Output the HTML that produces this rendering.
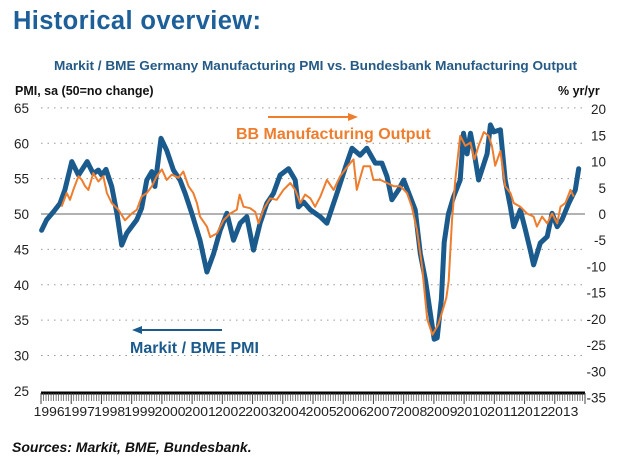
<!DOCTYPE html>
<html><head><meta charset="utf-8"><style>
body{margin:0;background:#fff;}
svg{display:block;font-family:"Liberation Sans",Arial,sans-serif;}
</style></head><body>
<svg width="640" height="466" viewBox="0 0 640 466">
<text x="13" y="29" font-size="25.5" font-weight="bold" fill="#1d5f98" textLength="248">Historical overview:</text>
<text x="54" y="70" font-size="13" font-weight="bold" fill="#245a85" textLength="523" lengthAdjust="spacingAndGlyphs">Markit / BME Germany Manufacturing PMI vs. Bundesbank Manufacturing Output</text>
<text x="15" y="95" font-size="12.5" font-weight="bold" fill="#111">PMI, sa (50=no change)</text>
<text x="558" y="95" font-size="12.5" font-weight="bold" fill="#111">% yr/yr</text>
<g id="grid"></g>
<g id="axes"></g>
<g id="series"></g>
<line x1="268" y1="117" x2="352" y2="117" stroke="#ee7d2e" stroke-width="2"/>
<polygon points="358,117 348,113 348,121" fill="#ee7d2e"/>
<text x="236" y="139" font-size="16" font-weight="bold" fill="#ee7d2e">BB Manufacturing Output</text>
<line x1="140" y1="330" x2="222" y2="330" stroke="#1b5a8c" stroke-width="2"/>
<polygon points="132,330 142,326 142,334" fill="#1b5a8c"/>
<text x="130" y="353" font-size="16" font-weight="bold" fill="#1b5a8c">Markit / BME PMI</text>
<text x="12" y="452" font-size="14" font-weight="bold" font-style="italic" fill="#111">Sources: Markit, BME, Bundesbank.</text>
</svg>
<script>
const leftTicks=[65,60,55,50,45,40,35,30,25];
const rightTicks=[20,15,10,5,0,-5,-10,-15,-20,-25,-30,-35];
const years=[1996,1997,1998,1999,2000,2001,2002,2003,2004,2005,2006,2007,2008,2009,2010,2011,2012,2013];
const pmiT=[1996.02,1996.19,1996.41,1996.63,1996.79,1997.02,1997.24,1997.53,1997.73,1997.90,1998.01,1998.15,1998.34,1998.51,1998.67,1998.84,1999.17,1999.33,1999.50,1999.67,1999.77,1999.97,2000.16,2000.38,2000.60,2000.77,2000.99,2001.26,2001.49,2001.71,2001.93,2002.15,2002.26,2002.37,2002.59,2002.81,2003.03,2003.25,2003.47,2003.69,2003.91,2004.19,2004.41,2004.52,2004.69,2004.91,2005.24,2005.46,2005.79,2006.12,2006.29,2006.56,2006.78,2007.06,2007.28,2007.45,2007.61,2007.83,2008.00,2008.22,2008.38,2008.55,2008.72,2008.88,2009.01,2009.11,2009.25,2009.34,2009.48,2009.65,2009.87,2009.98,2010.10,2010.21,2010.34,2010.48,2010.76,2010.87,2010.98,2011.20,2011.36,2011.53,2011.64,2011.86,2012.03,2012.19,2012.30,2012.52,2012.75,2012.91,2013.08,2013.24,2013.46,2013.68,2013.79];
const pmiV=[47.7,49.2,50.3,51.5,53.4,57.4,55.5,57.4,55.7,56.2,55.5,56.3,53.9,50.1,45.6,47.3,49.2,50.8,54.8,56.0,53.9,60.7,59.0,56.2,54.8,52.9,50.1,46.3,41.8,44.4,47.7,50.1,48.2,46.3,48.7,49.6,44.9,48.7,51.5,52.9,55.5,56.4,54.8,51.0,51.7,50.6,49.6,48.7,52.9,57.2,59.3,58.3,59.3,57.2,57.2,55.3,52.0,53.4,54.8,52.4,50.6,44.4,40.7,36,32.3,32.5,38,46,50,52.4,54.8,61.4,58.5,61.4,58.5,54.8,58.5,62.6,61.6,61.9,54.8,51.0,48.2,50.6,47.7,44.9,42.8,45.9,46.8,50.1,48.2,49.2,51.5,53.4,56.4,55.0];
const bbT=[1996.68,1996.85,1996.96,1997.07,1997.24,1997.35,1997.46,1997.57,1997.73,1997.90,1998.06,1998.18,1998.34,1998.56,1998.78,1999.00,1999.17,1999.33,1999.50,1999.67,1999.83,2000.00,2000.16,2000.33,2000.55,2000.71,2000.88,2001.04,2001.16,2001.26,2001.49,2001.60,2001.82,2002.04,2002.26,2002.48,2002.57,2002.70,2002.92,2003.09,2003.20,2003.36,2003.58,2003.80,2004.02,2004.25,2004.41,2004.58,2004.74,2004.91,2005.07,2005.24,2005.46,2005.68,2005.90,2006.07,2006.23,2006.34,2006.45,2006.67,2006.89,2007.00,2007.23,2007.45,2007.67,2007.89,2008.11,2008.27,2008.44,2008.61,2008.78,2008.95,2009.05,2009.15,2009.28,2009.41,2009.49,2009.60,2009.71,2009.87,2010.04,2010.21,2010.34,2010.48,2010.65,2010.81,2010.92,2011.03,2011.20,2011.36,2011.53,2011.64,2011.86,2012.08,2012.30,2012.41,2012.58,2012.75,2012.91,2013.08,2013.19,2013.35,2013.52,2013.63];
const bbV=[1.4,4.0,2.7,4.6,7.2,6.5,5.3,4.6,7.8,6.2,7.2,4.0,2.1,0.8,-1.2,0.1,0.8,3.3,4.0,5.3,7.2,8.5,6.5,7.5,6.9,8.1,5.3,4.0,2.1,-0.5,-2.4,-4.4,-3.7,-1.2,0.1,0.8,3.7,1.4,1.1,0.4,-1.8,0.8,3.0,2.7,4.6,5.9,4.6,2.1,3.7,3.0,1.4,3.3,6.5,4.6,7.2,8.5,9.7,10.4,4.6,9.1,9.1,6.5,6.5,5.9,5.3,5.3,4.0,1.4,-3.1,-10,-20,-23,-22,-21,-18.5,-16,-12.7,-1.2,6.5,14.9,13,13.6,10.4,13,15.6,14.9,13,9.2,12,5.3,4.0,2.1,1.4,0.1,-0.5,-2.4,-0.5,-1.8,0.1,-1.8,1.4,2.1,4.6,3.3];

const NS="http://www.w3.org/2000/svg";
const X0=41,X1=585;
function xs(t){return X0+(t-1996)*(X1-X0)/18;}
function yl(v){return 214-(v-50)*(393-110)/40;}
function yr(v){return 214-v*(393-110)/55*1.02;}
function mk(tag,attrs,parent){const e=document.createElementNS(NS,tag);for(const k in attrs)e.setAttribute(k,attrs[k]);parent.appendChild(e);return e;}
const grid=document.getElementById('grid'),axes=document.getElementById('axes'),series=document.getElementById('series');
leftTicks.forEach(v=>{
  const y=yl(v);
  if(v>25){
    const l=mk('line',{x1:X0,x2:X1,y1:y,y2:y,stroke:v===50?'#666':'#999','stroke-width':1,'stroke-dasharray':v===50?'':'1.5,5'},grid);
    
    
  }
  const t=mk('text',{x:14,y:y+5,'font-size':13.5,fill:'#222'},axes);t.textContent=v;
  
  
});
rightTicks.forEach(v=>{
  const t=mk('text',{x:606,y:yr(v)+5,'font-size':13.5,fill:'#222','text-anchor':'end'},axes);t.textContent=v;
  
  
});
const ax=mk('line',{x1:X0,x2:X1,y1:393,y2:393,stroke:'#000','stroke-width':3},axes);


for(let m=0;m<=18*12;m++){
  const x=xs(1996+m/12);const yr_=m%12===0;
  const tk=mk('line',{x1:x,x2:x,y1:393,y2:yr_?404:401,stroke:'#444','stroke-width':yr_?1:0.7},axes);
  
  
}
years.forEach(y=>{
  const t=mk('text',{x:xs(y+0.27),y:416,'font-size':12.5,fill:'#222','text-anchor':'middle',textLength:31,lengthAdjust:'spacingAndGlyphs'},axes);t.textContent=y;
  
  
});
const pb=mk('polyline',{points:pmiT.map((t,i)=>xs(t).toFixed(1)+','+yl(pmiV[i]).toFixed(1)).join(' '),fill:'none',stroke:'#1b5a8c','stroke-width':5,'stroke-linejoin':'round','stroke-linecap':'round'},series);


const po=mk('polyline',{points:bbT.map((t,i)=>xs(t).toFixed(1)+','+yr(bbV[i]).toFixed(1)).join(' '),fill:'none',stroke:'#ee7d2e','stroke-width':2,'stroke-linejoin':'round'},series);


</script>
</body></html>
